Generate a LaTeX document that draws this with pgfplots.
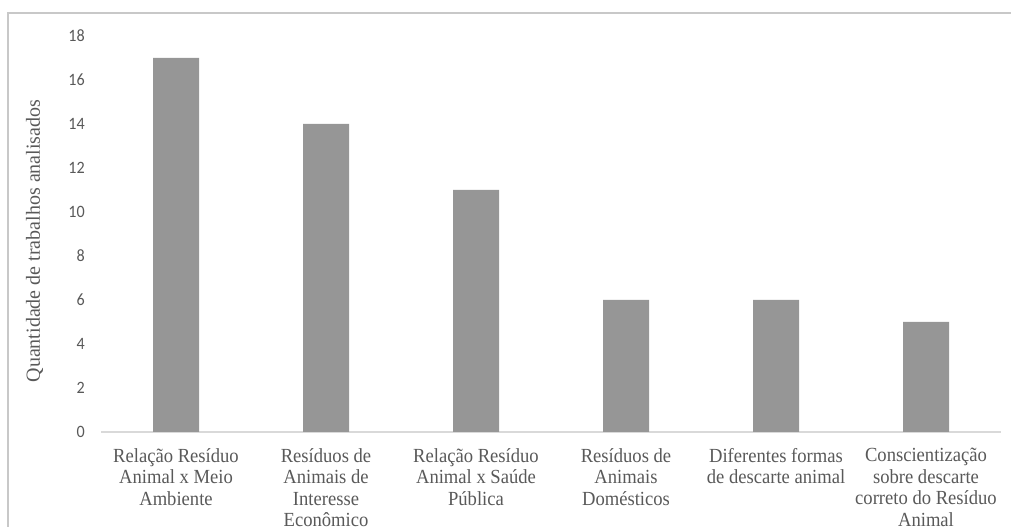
\documentclass[border=0pt]{standalone}
\usepackage{pgfplots}
\pgfplotsset{compat=1.18}
\usepackage{fontspec}
\setmainfont{Liberation Serif}
\newfontfamily\tickfont{Carlito}
\definecolor{bargray}{RGB}{150,150,150}
\definecolor{txtgray}{RGB}{89,89,89}
\definecolor{axgray}{RGB}{217,217,217}
\definecolor{framegray}{RGB}{200,200,200}
\begin{document}
\begin{tikzpicture}[x=1pt,y=1pt]
\useasboundingbox (0,0) rectangle (758.25,395.25);
\begin{scope}
\clip (0,0) rectangle (758.25,395.25);
\draw[framegray, line width=1.2pt] (6,385.5) rectangle (770,-10);
\end{scope}
\begin{axis}[
  at={(75.75pt,71.25pt)}, anchor=south west,
  scale only axis,
  width=675pt, height=297pt,
  xmin=-0.5, xmax=5.5, ymin=0, ymax=18,
  ytick={0,2,...,18},
  xtick={0,1,2,3,4,5},
  xticklabels={
    {Relação Resíduo\\Animal x Meio\\Ambiente},
    {Resíduos de\\Animais de\\Interesse\\Econômico},
    {Relação Resíduo\\Animal x Saúde\\Pública},
    {Resíduos de\\Animais\\Domésticos},
    {Diferentes formas\\de descarte animal},
    {Conscientização\\sobre descarte\\correto do Resíduo\\Animal}},
  axis lines=left,
  axis line style={-},
  y axis line style={draw=none},
  x axis line style={draw=axgray, line width=0.8pt},
  major tick length=0pt,
  /pgf/number format/assume math mode=true,
  yticklabel style={font=\tickfont\fontsize{13pt}{15pt}\selectfont, text=txtgray, inner sep=0pt, anchor=east, xshift=-12pt, xscale=0.93},
  xticklabel style={font=\fontsize{15pt}{16.1pt}\selectfont, text=txtgray, align=center, inner sep=0pt, anchor=north, yshift=-12pt, xscale=0.93},
  clip=false,
]
\addplot[ybar, bar width=34.5pt, fill=bargray, draw=none] coordinates {(0,17) (1,14) (2,11) (3,6) (4,6) (5,5)};
\end{axis}
\node[rotate=90, anchor=base, font=\fontsize{15pt}{18pt}\selectfont, text=txtgray] at (30,214.5) {Quantidade de trabalhos analisados};
\end{tikzpicture}
\end{document}
